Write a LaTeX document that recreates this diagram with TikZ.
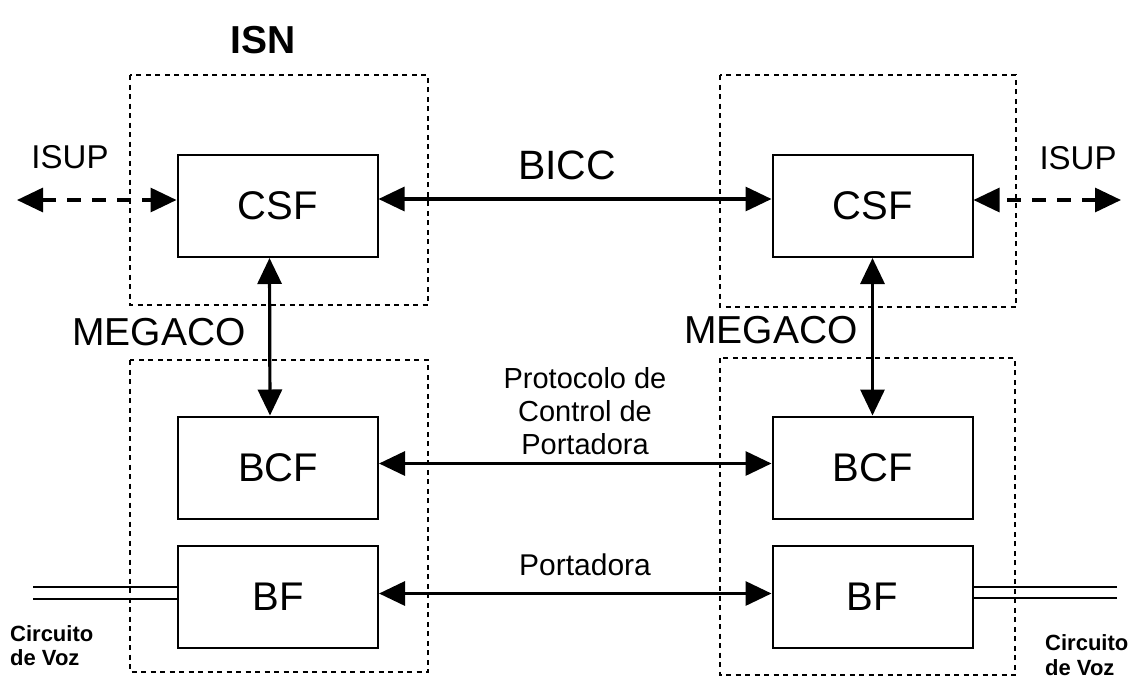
\documentclass[tikz,border=0pt]{standalone}
\usepackage{fontspec}
\setmainfont{Liberation Sans}
\usetikzlibrary{arrows.meta}

\tikzset{
	bloque/.style={draw,line width=2pt,minimum width=200pt,minimum height=102pt,inner sep=0pt,font=\fontsize{40}{40}\selectfont},
	grupo/.style={line width=1.5pt,dash pattern=on 5pt off 4.5pt},
	flecha/.style={line width=3.2pt,{Triangle[length=26pt,width=24pt]}-{Triangle[length=26pt,width=24pt]}},
	senal/.style={flecha,dash pattern=on 14pt off 11pt},
	circuito/.style={line width=1.3pt},
	etiqueta/.style={inner sep=0pt,align=center}
}

\begin{document}
\begin{tikzpicture}[x=1pt,y=-1pt]
	\useasboundingbox (0,0) rectangle (1139,680);
	% Dashed groups
	\draw[grupo] (130,75) rectangle (428,305);
	\draw[grupo] (720,75) rectangle (1016,307);
	\draw[grupo] (130,360) rectangle (428,672);
	\draw[grupo] (720,358) rectangle (1015,675);
	% Functional blocks
	\node[bloque] (csfL) at (277.5,206) {CSF};
	\node[bloque] (csfR) at (872.5,206) {CSF};
	\node[bloque] (bcfL) at (278,467.5) {BCF};
	\node[bloque] (bcfR) at (872.5,467.5) {BCF};
	\node[bloque] (bfL) at (278,596.5) {BF};
	\node[bloque] (bfR) at (872.5,596.5) {BF};
	% Labels
	\node[etiqueta,font=\fontsize{39}{39}\selectfont\bfseries] (isn) at (263,40) {ISN};
	\node[etiqueta,font=\fontsize{33}{33}\selectfont] (isupL) at (70,157) {ISUP};
	\node[etiqueta,font=\fontsize{33}{33}\selectfont] (isupR) at (1078,158) {ISUP};
	\node[etiqueta,font=\fontsize{41}{41}\selectfont] (bicc) at (567,165) {BICC};
	\node[etiqueta,font=\fontsize{39}{39}\selectfont] (megL) at (159,332) {MEGACO};
	\node[etiqueta,font=\fontsize{39}{39}\selectfont] (megR) at (771,330) {MEGACO};
	\node[etiqueta,font=\fontsize{29}{33}\selectfont] (pcp) at (585,411) {Protocolo de\\Control de\\Portadora};
	\node[etiqueta,font=\fontsize{30}{30}\selectfont] (port) at (585,565) {Portadora};
	\node[etiqueta,anchor=west,align=left,font=\fontsize{22}{24}\selectfont\bfseries] (cvL) at (10,646) {Circuito\\de Voz};
	\node[etiqueta,anchor=west,align=left,font=\fontsize{22}{25}\selectfont\bfseries] (cvR) at (1045,655) {Circuito\\de Voz};
	% Free ends
	\coordinate (extL) at (17,200);
	\coordinate (extR) at (1121,200);
	\coordinate (vozL1) at (33,587);
	\coordinate (vozL2) at (33,599);
	\coordinate (vozR1) at (1117,587);
	\coordinate (vozR2) at (1117,598);
	% ISUP signalling
	\draw[senal] (extL) -- ([yshift=6pt]csfL.west);
	\draw[senal] (extR) -- ([yshift=6pt]csfR.east);
	% BICC
	\draw[flecha] ([yshift=7pt]csfL.east) -- ([yshift=7pt]csfR.west);
	% MEGACO
	\draw[flecha] ([xshift=-8pt]csfL.south) -- ([xshift=-8pt]bcfL.north);
	\draw[flecha] (csfR.south) -- (bcfR.north);
	% Bearer control and bearer
	\draw[flecha] ([yshift=4pt]bcfL.east) -- ([yshift=4pt]bcfR.west);
	\draw[flecha] ([yshift=3pt]bfL.east) -- ([yshift=3pt]bfR.west);
	% Voice circuits
	\draw[circuito] (vozL1) -- (vozL1 -| bfL.west);
	\draw[circuito] (vozL2) -- (vozL2 -| bfL.west);
	\draw[circuito] (vozR1) -- (vozR1 -| bfR.east);
	\draw[circuito] (vozR2) -- (vozR2 -| bfR.east);
\end{tikzpicture}
\end{document}
